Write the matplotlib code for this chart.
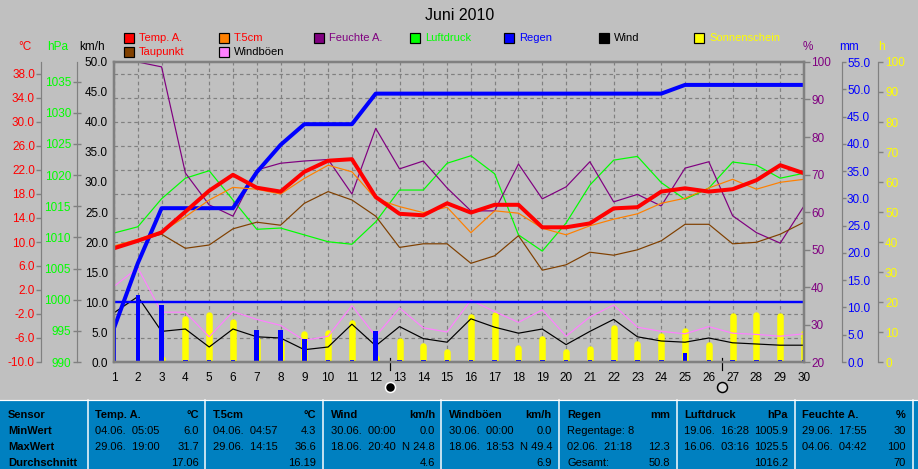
import matplotlib
matplotlib.use("Agg")
import matplotlib.pyplot as plt

BG = '#C0C0C0'
GREY = '#808080'
PURPLE = '#800080'
ORANGE = '#FF8000'
BROWN = '#804000'
VIOLET = '#FF80FF'
LIME = '#00FF00'
YELLOW = '#FFFF00'
PANEL = '#0080C0'
PX = 0.72  # points per pixel at dpi 100


def side_axis(ylim, ticks, fmt, color, side, outward, length, pad, direction='out'):
    """
    Set up the y axis of the current axes as one of the scales beside the chart
    """
    ax = plt.gca()
    ax.patch.set_visible(False)
    for name in ax.spines:
        ax.spines[name].set_visible(False)
    # moving a spine resets the ticks, so this comes first
    if outward is not None:
        ax.spines[side].set_visible(True)
        ax.spines[side].set_color(GREY)
        ax.spines[side].set_linewidth(PX * 1.2)
        ax.spines[side].set_position(('outward', outward * PX))
    plt.ylim(*ylim)
    plt.xlim(1, 30)
    if side == 'left':
        ax.yaxis.tick_left()
    else:
        ax.yaxis.tick_right()
    plt.yticks(ticks, [fmt % t for t in ticks], color=color, fontsize=8.5)
    plt.tick_params(axis='y', length=length * PX, width=1, color=GREY, pad=pad * PX, direction=direction)


def plot_month():
    """
    Draw the monthly weather chart with all of its scales
    """
    days = list(range(1, 31))
    temp = [8.95, 10.2, 11.6, 15.05, 18.55, 21.2, 19.05, 18.4, 21.7, 23.55,
            23.8, 17.5, 14.7, 14.45, 16.45, 14.9, 16.2, 16.2, 12.45, 12.45,
            13.1, 15.6, 15.8, 18.4, 18.95, 18.4, 18.8, 20.3, 22.8, 21.45]
    t5cm = [9.33, 10.45, 11.7, 14.2, 17.0, 19.1, 18.8, 18.0, 20.6, 22.8,
            21.7, 17.2, 15.9, 14.9, 15.8, 11.55, 15.2, 14.8, 12.3, 11.2,
            12.7, 13.8, 14.7, 16.45, 17.3, 19.0, 20.45, 18.8, 19.95, 20.45]
    dew = [9.2, 10.3, 11.3, 8.95, 9.5, 12.2, 13.3, 12.8, 16.45, 18.4,
           17.0, 14.3, 9.1, 9.7, 9.7, 6.45, 7.7, 11.05, 5.3, 6.2,
           8.3, 7.8, 8.7, 10.2, 12.95, 12.95, 9.7, 9.95, 11.3, 13.3]
    humidity = [99.9, 100, 98.7, 70.4, 61.9, 58.9, 71.2, 73, 73.6, 74,
                64.8, 82.3, 71.5, 73.6, 66.4, 60.3, 60.3, 72.8, 63.5, 66.7,
                73.4, 62.7, 64.7, 61.6, 71.7, 73.4, 59, 54.5, 51.7, 61.6]
    pressure = [1010.7, 1011.7, 1016.2, 1019.5, 1020.7, 1016, 1011.3, 1011.5, 1010.4, 1009.3,
                1008.9, 1012.5, 1017.6, 1017.6, 1021.9, 1023.1, 1020.2, 1010.4, 1007.8, 1012.3,
                1018.4, 1022.4, 1023, 1018.8, 1016.1, 1017.9, 1022.1, 1021.6, 1019.5, 1020.3]
    rain_sum = [6.2, 18.1, 28.2, 28.2, 28.2, 28.2, 34.8, 39.8, 43.6, 43.6,
                43.6, 49.2, 49.2, 49.2, 49.2, 49.2, 49.2, 49.2, 49.2, 49.2,
                49.2, 49.2, 49.2, 49.2, 50.8, 50.8, 50.8, 50.8, 50.8, 50.8]
    rain_day = [6.2, 12.3, 10.4, 0.4, 0.4, 0.4, 5.9, 5.9, 4.2, 0.4,
                0.4, 5.6, 0.4, 0.4, 0.4, 0.4, 0.4, 0.4, 0.4, 0.4,
                0.4, 0.4, 0.4, 0.4, 1.6, 0.4, 0.4, 0.4, 0.4, 0.4]
    wind = [8.2, 10.9, 5.1, 5.5, 2.5, 5.5, 4.2, 4.0, 2.05, 2.5,
            6.3, 2.7, 5.9, 3.9, 3.3, 7.2, 5.8, 4.8, 5.5, 2.9,
            5.1, 7.1, 4.2, 3.5, 3.3, 4.0, 3.2, 3.0, 2.8, 2.8]
    gusts = [12.6, 15.7, 8.3, 8.3, 4.2, 8.4, 7.1, 6.1, 3.6, 4.3,
             9.4, 4.3, 9.0, 5.7, 5.0, 10.3, 8.4, 6.6, 8.7, 4.3,
             7.5, 9.5, 5.8, 5.1, 4.7, 5.9, 4.8, 4.6, 4.3, 4.7]
    sun = [0.1, 0.1, 1.0, 14.5, 15.8, 13.3, 7.5, 6.4, 9.4, 9.8,
           13.1, 1.4, 7.1, 5.4, 3.4, 15.0, 15.7, 4.6, 7.7, 3.3,
           4.4, 11.4, 6.0, 8.7, 10.4, 5.7, 15.4, 15.8, 15.4, 9.8]

    plt.figure(figsize=(9.18, 4.69), facecolor=BG)
    plt.axes([114 / 918, 107 / 469, 690 / 918, 300 / 469])

    # ── Temperature scale and grid ──
    temp_ticks = list(range(-10, 39, 4))
    side_axis((-10, 40), temp_ticks, '%.1f', 'red', 'left', 73, 5, 1)
    plt.grid(True, color=GREY, linestyle=(0, (3, 2.5)), linewidth=PX * 1.2)
    plt.xticks(days, [str(d) for d in days], fontsize=8.5)
    plt.tick_params(axis='x', length=0, pad=10 * PX)
    base = plt.gca()

    # ── Sunshine ──
    plt.twinx(base)
    side_axis((0, 100), list(range(0, 101, 10)), '%d', YELLOW, 'right', 74, 5, 2)
    plt.vlines(days, 0, sun, color=YELLOW, linewidth=6.5 * PX, capstyle='round')

    # ── Wind and gusts ──
    plt.twinx(base)
    side_axis((0, 50), list(range(0, 51, 5)), '%.1f', 'black', 'left', None, 0, 6)
    plt.plot(days, gusts, color=VIOLET, linewidth=PX * 1.2)
    plt.plot(days, wind, color='black', linewidth=PX * 1.2)
    plt.axhline(10, color='blue', linewidth=PX * 2.4)

    # ── Air pressure ──
    plt.twinx(base)
    side_axis((990, 1038.15), list(range(990, 1036, 5)), '%d', LIME, 'left', 37, 8, 2, 'inout')
    plt.plot(days, pressure, color=LIME, linewidth=PX * 1.2)

    # ── Humidity ──
    plt.twinx(base)
    side_axis((20, 100), list(range(20, 101, 10)), '%d', PURPLE, 'right', None, 6, 1)
    plt.plot(days, humidity, color=PURPLE, linewidth=PX * 1.2)

    # ── Rain, daily and sum ──
    plt.twinx(base)
    side_axis((0, 55), list(range(0, 56, 5)), '%.1f', 'blue', 'right', 38, 4, 1)
    plt.bar(days, rain_day, color='blue', width=0.19)
    plt.plot(days, rain_sum, color='blue', linewidth=PX * 4, solid_capstyle='butt')

    # ── Temperatures on top, with the frame ──
    plt.twinx(base)
    plt.ylim(-10, 40)
    plt.xlim(1, 30)
    plt.gca().patch.set_visible(False)
    plt.gca().yaxis.set_visible(False)
    plt.plot(days, dew, color=BROWN, linewidth=PX * 1.2)
    plt.plot(days, t5cm, color=ORANGE, linewidth=PX * 1.2)
    plt.plot(days, temp, color='red', linewidth=PX * 4)
    for name in plt.gca().spines:
        plt.gca().spines[name].set_color(GREY)
        plt.gca().spines[name].set_linewidth(PX * 2.5)

    # Moon phases below the day axis, y in the units of this scale
    for day, face in [(12.58, 'black'), (26.56, '#D8D8D8')]:
        plt.plot([day, day], [-9.33, -11.33], color='black', linewidth=PX * 1.2, clip_on=False)
        plt.plot([day], [-14.2], marker='o', markersize=10 * PX, markerfacecolor=face,
                 markeredgecolor='white' if face == 'black' else 'black',
                 markeredgewidth=PX * 1.5, clip_on=False)


def plot_labels():
    """
    Title, legend, unit labels and the table of min and max values
    """
    plt.axes([0, 0, 1, 1])
    plt.xlim(0, 918)
    plt.ylim(469, 0)
    plt.axis('off')
    plt.gca().patch.set_visible(False)

    plt.text(460, 15, 'Juni 2010', fontsize=11.5, ha='center', va='center')

    # ── Units ──
    units = [(25, '°C', 'red'), (58, 'hPa', LIME), (92, 'km/h', 'black'),
             (808, '%', PURPLE), (849, 'mm', 'blue'), (881.5, 'h', YELLOW)]
    for x, label, color in units:
        plt.text(x, 47, label, color=color, fontsize=8.5, ha='center', va='center')

    # ── Legend ──
    legend = [(124, 38, 'Temp. A.', 'red', 'red'),
              (219, 38, 'T.5cm', ORANGE, 'red'),
              (314, 38, 'Feuchte A.', PURPLE, PURPLE),
              (410, 38, 'Luftdruck', LIME, LIME),
              (504, 38, 'Regen', 'blue', 'blue'),
              (599, 38, 'Wind', 'black', 'black'),
              (694, 38, 'Sonnenschein', YELLOW, YELLOW),
              (124, 52, 'Taupunkt', BROWN, 'red'),
              (219, 52, 'Windböen', VIOLET, 'black')]
    for x, y, label, color, text_color in legend:
        plt.gca().add_patch(plt.Rectangle((x, y - 5), 10, 10, facecolor=color, edgecolor='black', linewidth=PX * 1.2))
        plt.text(x + 15, y, label, color=text_color, fontsize=8, va='center')

    # ── Table ──
    plt.gca().add_patch(plt.Rectangle((0, 400), 918, 69, facecolor=PANEL, edgecolor='none'))
    plt.plot([0, 918], [400.5, 400.5], color='white', linewidth=PX * 1.2)
    for x in [88, 205, 323, 441, 559, 677, 795, 913]:
        plt.plot([x, x], [400, 469], color='white', linewidth=PX * 1.5)

    rows_y = [415, 431, 447, 463]
    for y, label in zip(rows_y, ['Sensor', 'MinWert', 'MaxWert', 'Durchschnitt']):
        plt.text(8, y, label, fontsize=8, fontweight='bold', va='center')

    table = [
        (95, 199, 'Temp. A.', '°C', '04.06.  05:05', '6.0', '29.06.  19:00', '31.7', '', '17.06'),
        (213, 316, 'T.5cm', '°C', '04.06.  04:57', '4.3', '29.06.  14:15', '36.6', '', '16.19'),
        (331, 435, 'Wind', 'km/h', '30.06.  00:00', '0.0', '18.06.  20:40', 'N 24.8', '', '4.6'),
        (449, 552, 'Windböen', 'km/h', '30.06.  00:00', '0.0', '18.06.  18:53', 'N 49.4', '', '6.9'),
        (567, 670, 'Regen', 'mm', 'Regentage: 8', '', '02.06.  21:18', '12.3', 'Gesamt:', '50.8'),
        (684, 788, 'Luftdruck', 'hPa', '19.06.  16:28', '1005.9', '16.06.  03:16', '1025.5', '', '1016.2'),
        (802, 906, 'Feuchte A.', '%', '29.06.  17:55', '30', '04.06.  04:42', '100', '', '70'),
    ]
    for left, right, name, unit, min_when, min_val, max_when, max_val, avg_when, avg_val in table:
        plt.text(left, rows_y[0], name, fontsize=8, fontweight='bold', va='center')
        plt.text(right, rows_y[0], unit, fontsize=8, fontweight='bold', va='center', ha='right')
        plt.text(left, rows_y[1], min_when, fontsize=8, va='center')
        plt.text(right, rows_y[1], min_val, fontsize=8, va='center', ha='right')
        plt.text(left, rows_y[2], max_when, fontsize=8, va='center')
        plt.text(right, rows_y[2], max_val, fontsize=8, va='center', ha='right')
        plt.text(left, rows_y[3], avg_when, fontsize=8, va='center')
        plt.text(right, rows_y[3], avg_val, fontsize=8, va='center', ha='right')


def main():
    plt.rcParams['font.family'] = 'Liberation Sans'

    plot_month()
    plot_labels()

    plt.savefig('out.png', dpi=100, facecolor=BG)
    plt.close()
    print("[Chart] saved to out.png")


if __name__ == "__main__":
    main()
